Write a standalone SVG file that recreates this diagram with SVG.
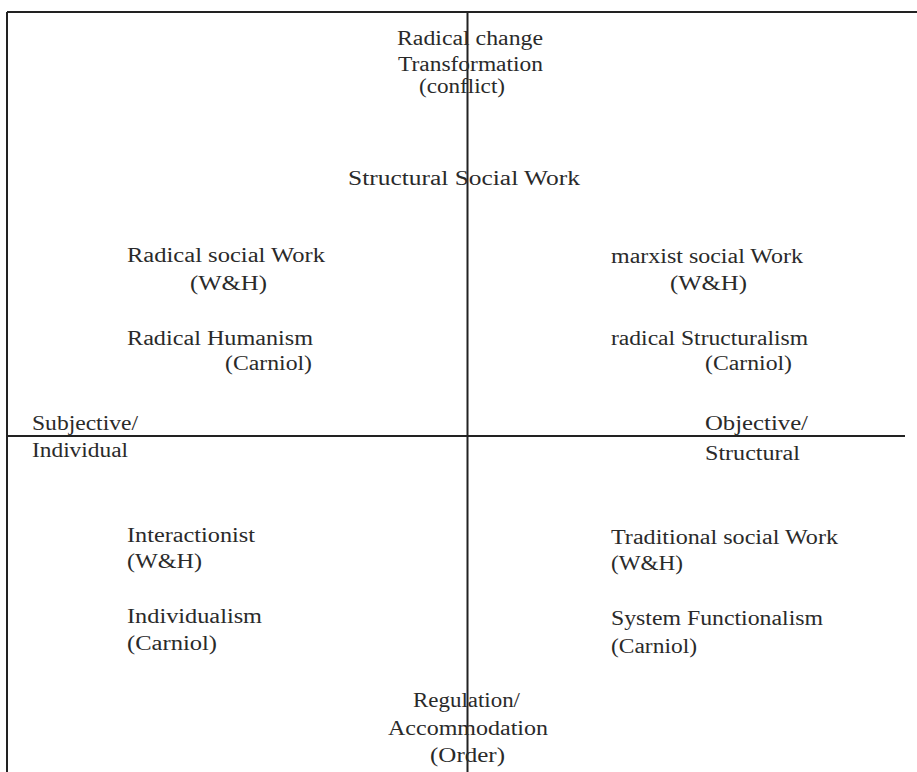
<svg xmlns="http://www.w3.org/2000/svg" width="917" height="772" viewBox="0 0 917 772">
  <style>
    .t { font-family: "Liberation Serif", "Times New Roman", serif; font-size: 20px; fill: #2a2a2a; }
    .axis { stroke: #222; stroke-width: 2; fill: none; }
  </style>
  <rect width="917" height="772" fill="#fff"/>

  <!-- frame and quadrant axes -->
  <g id="axes">
    <line class="axis" x1="7" y1="12" x2="917" y2="12"/>
    <line class="axis" x1="7" y1="12" x2="7" y2="772"/>
    <line class="axis" x1="467.5" y1="12" x2="467.5" y2="772"/>
    <line class="axis" x1="7" y1="436" x2="905" y2="436"/>
  </g>

  <!-- top pole -->
  <g id="pole-top">
    <text class="t" x="397" y="45" textLength="146" lengthAdjust="spacingAndGlyphs">Radical change</text>
    <text class="t" x="398" y="71" textLength="145" lengthAdjust="spacingAndGlyphs">Transformation</text>
    <text class="t" x="419" y="93" textLength="86" lengthAdjust="spacingAndGlyphs">(conflict)</text>
  </g>

  <g id="structural-social-work">
    <text class="t" x="348" y="185" textLength="232" lengthAdjust="spacingAndGlyphs">Structural Social Work</text>
  </g>

  <!-- upper left quadrant -->
  <g id="radical-social-work">
    <text class="t" x="127" y="262" textLength="198" lengthAdjust="spacingAndGlyphs">Radical social Work</text>
    <text class="t" x="190" y="290" textLength="77" lengthAdjust="spacingAndGlyphs">(W&amp;H)</text>
  </g>
  <g id="radical-humanism">
    <text class="t" x="127" y="345" textLength="186" lengthAdjust="spacingAndGlyphs">Radical Humanism</text>
    <text class="t" x="225" y="370" textLength="87" lengthAdjust="spacingAndGlyphs">(Carniol)</text>
  </g>

  <!-- upper right quadrant -->
  <g id="marxist-social-work">
    <text class="t" x="611" y="263" textLength="192" lengthAdjust="spacingAndGlyphs">marxist social Work</text>
    <text class="t" x="670" y="290" textLength="77" lengthAdjust="spacingAndGlyphs">(W&amp;H)</text>
  </g>
  <g id="radical-structuralism">
    <text class="t" x="611" y="345" textLength="197" lengthAdjust="spacingAndGlyphs">radical Structuralism</text>
    <text class="t" x="705" y="370" textLength="87" lengthAdjust="spacingAndGlyphs">(Carniol)</text>
  </g>

  <!-- horizontal poles -->
  <g id="pole-left">
    <text class="t" x="32" y="430" textLength="106" lengthAdjust="spacingAndGlyphs">Subjective/</text>
    <text class="t" x="32" y="457" textLength="96" lengthAdjust="spacingAndGlyphs">Individual</text>
  </g>
  <g id="pole-right">
    <text class="t" x="705" y="430" textLength="103" lengthAdjust="spacingAndGlyphs">Objective/</text>
    <text class="t" x="705" y="460" textLength="95" lengthAdjust="spacingAndGlyphs">Structural</text>
  </g>

  <!-- lower left quadrant -->
  <g id="interactionist">
    <text class="t" x="127" y="542" textLength="128" lengthAdjust="spacingAndGlyphs">Interactionist</text>
    <text class="t" x="127" y="568" textLength="75" lengthAdjust="spacingAndGlyphs">(W&amp;H)</text>
  </g>
  <g id="individualism">
    <text class="t" x="127" y="623" textLength="135" lengthAdjust="spacingAndGlyphs">Individualism</text>
    <text class="t" x="127" y="650" textLength="90" lengthAdjust="spacingAndGlyphs">(Carniol)</text>
  </g>

  <!-- lower right quadrant -->
  <g id="traditional-social-work">
    <text class="t" x="611" y="544" textLength="227" lengthAdjust="spacingAndGlyphs">Traditional social Work</text>
    <text class="t" x="611" y="570" textLength="72" lengthAdjust="spacingAndGlyphs">(W&amp;H)</text>
  </g>
  <g id="system-functionalism">
    <text class="t" x="611" y="625" textLength="212" lengthAdjust="spacingAndGlyphs">System Functionalism</text>
    <text class="t" x="611" y="653" textLength="86" lengthAdjust="spacingAndGlyphs">(Carniol)</text>
  </g>

  <!-- bottom pole -->
  <g id="pole-bottom">
    <text class="t" x="413" y="707" textLength="107" lengthAdjust="spacingAndGlyphs">Regulation/</text>
    <text class="t" x="388" y="735" textLength="160" lengthAdjust="spacingAndGlyphs">Accommodation</text>
    <text class="t" x="430" y="762" textLength="75" lengthAdjust="spacingAndGlyphs">(Order)</text>
  </g>
</svg>
